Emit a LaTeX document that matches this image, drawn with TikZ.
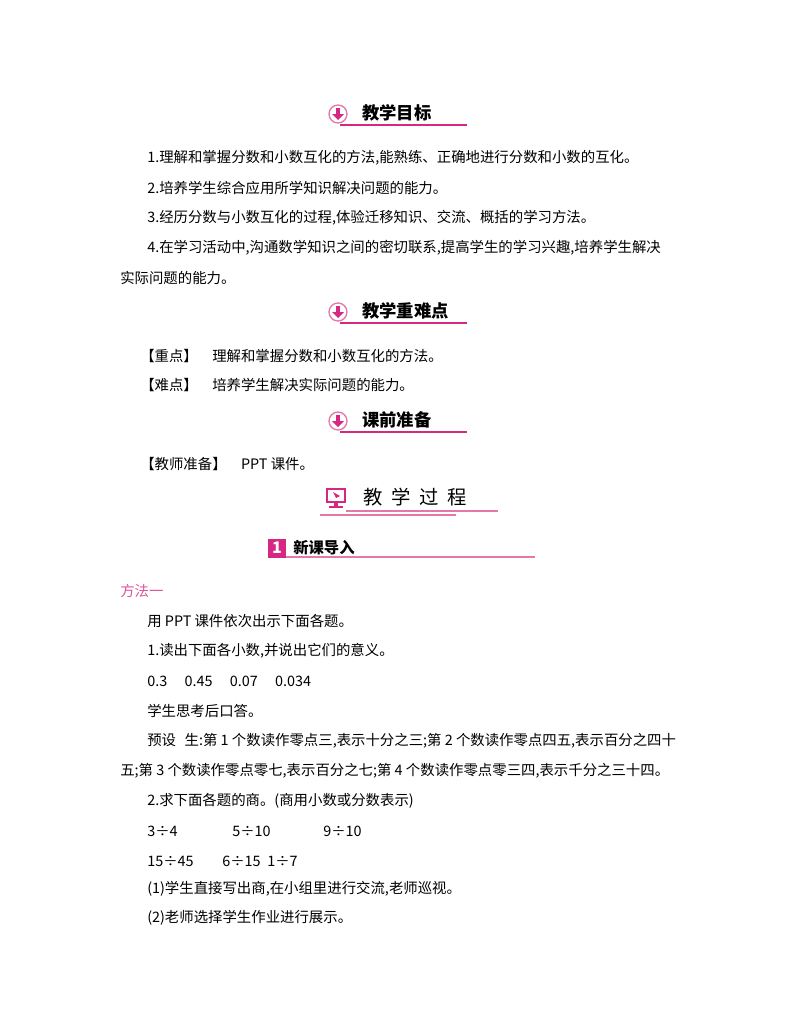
\documentclass[tikz,border=0pt]{standalone}
\usepackage{fontspec}
\setmainfont{Noto Sans CJK SC}
\definecolor{pk}{RGB}{214,40,130}
\definecolor{pkl}{RGB}{228,120,170}
\begin{document}
\begin{tikzpicture}[x=0.75pt,y=-0.75pt,
  tx/.style={anchor=west,inner sep=0pt,font=\fontsize{10.8pt}{12pt}\selectfont},
  hdr/.style={anchor=west,inner sep=0pt,font=\bfseries\fontsize{13pt}{14pt}\selectfont},
  uline/.style={pk,line width=0.9pt}]
\useasboundingbox (0,0) rectangle (800,1028);
% header icons
\foreach \y/\t/\n in {114/教学目标/h1,312/教学重难点/h2,421/课前准备/h3}{
  \draw[pkl,line width=1pt,fill=white] (338,\y) circle (9);
  \fill[pk] (336,\y-6) rectangle (340,\y+1);
  \fill[pk] (332,\y) -- (344,\y) -- (338,\y+6) -- cycle;
  \node[hdr] (\n) at (362,\y-1) {\t};
  \draw[uline] (340,\y+11) -- (467,\y+11);
}
% body lines
\node[tx] (l1) at (147,158) {1.理解和掌握分数和小数互化的方法,能熟练、正确地进行分数和小数的互化。};
\node[tx] (l2) at (147,188) {2.培养学生综合应用所学知识解决问题的能力。};
\node[tx] (l3) at (147,218) {3.经历分数与小数互化的过程,体验迁移知识、交流、概括的学习方法。};
\node[tx] (l4) at (147,248) {4.在学习活动中,沟通数学知识之间的密切联系,提高学生的学习兴趣,培养学生解决};
\node[tx] (l5) at (120,278) {实际问题的能力。};
\node[tx] (k1) at (140,356) {【重点】\hspace{1em}理解和掌握分数和小数互化的方法。};
\node[tx] (k2) at (140,385) {【难点】\hspace{1em}培养学生解决实际问题的能力。};
\node[tx] (p1) at (140,464) {【教师准备】\hspace{1em}PPT 课件。};
% 教学过程
\draw[pk,line width=1.2pt,fill=white] (327,489) rectangle (345,502);
\fill[pk] (334,502) rectangle (338,506);
\fill[pk] (329,506) rectangle (343,508);
\fill[pk] (333,492) -- (340,496) -- (336,498) -- cycle;
\node[anchor=west,inner sep=0pt,font=\fontsize{14.5pt}{16pt}\selectfont] (h4) at (363,497) {教\hspace{0.45em}学\hspace{0.45em}过\hspace{0.45em}程};
\draw[pkl,line width=0.9pt] (346,511) -- (498,511);
\draw[pkl,line width=0.9pt] (320,515) -- (456,515);
% 新课导入
\fill[pk] (268,539) rectangle (286,558);
\node[text=white,font=\bfseries\itshape\fontsize{12pt}{12pt}\selectfont,inner sep=0pt] (n1) at (277,548) {1};
\node[hdr,font=\bfseries\fontsize{11.5pt}{12pt}\selectfont] (h5) at (293,548) {新课导入};
\draw[pkl,line width=0.9pt] (286,557) -- (535,557);
\node[tx,text=pk!80] (m1) at (120,591) {方法一};
\node[tx] (b1) at (147,621) {用 PPT 课件依次出示下面各题。};
\node[tx] (b2) at (147,651) {1.读出下面各小数,并说出它们的意义。};
\node[tx] (b3) at (147,681) {0.3\hspace{1.2em}0.45\hspace{1.2em}0.07\hspace{1.2em}0.034};
\node[tx] (b4) at (147,711) {学生思考后口答。};
\node[tx] (b5) at (147,741) {预设\hspace{0.6em}生:第 1 个数读作零点三,表示十分之三;第 2 个数读作零点四五,表示百分之四十};
\node[tx] (b6) at (120,771) {五;第 3 个数读作零点零七,表示百分之七;第 4 个数读作零点零三四,表示千分之三十四。};
\node[tx] (b7) at (147,801) {2.求下面各题的商。(商用小数或分数表示)};
\node[tx] (c1) at (147,831) {3÷4};
\node[tx] (c2) at (232,831) {5÷10};
\node[tx] (c3) at (323,831) {9÷10};
\node[tx] (c4) at (147,861) {15÷45};
\node[tx] (c5) at (222,861) {6÷15};
\node[tx] (c6) at (267,861) {1÷7};
\node[tx] (b8) at (147,889) {(1)学生直接写出商,在小组里进行交流,老师巡视。};
\node[tx] (b9) at (147,918) {(2)老师选择学生作业进行展示。};
\end{tikzpicture}
\end{document}
